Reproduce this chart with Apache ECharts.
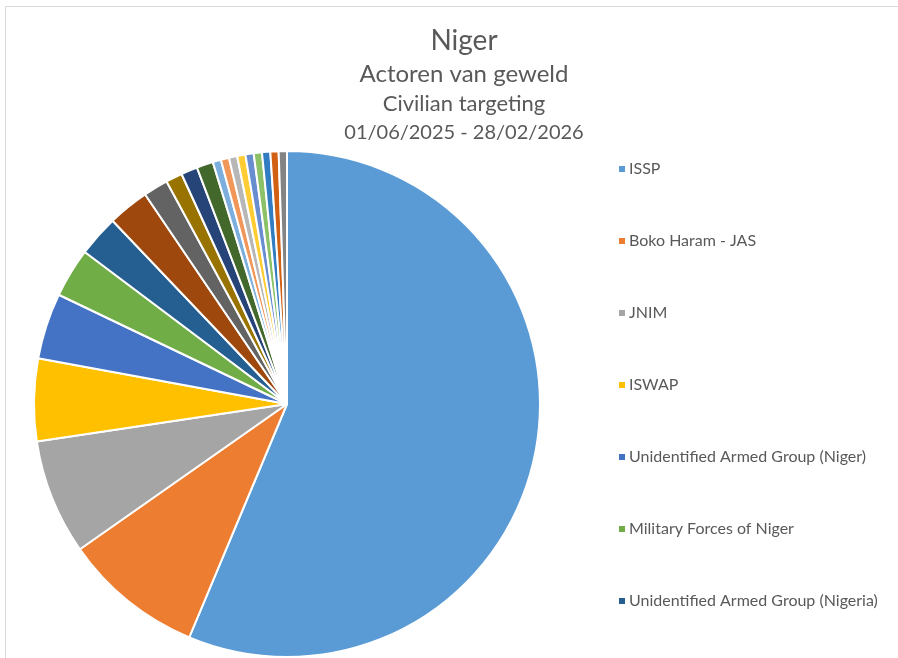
<!DOCTYPE html>
<html>
<head>
<meta charset="utf-8">
<script src="https://cdn.jsdelivr.net/npm/echarts@6/dist/echarts.min.js"></script>
<style>
  html, body { margin: 0; padding: 0; background: #fff; }
  #chart { width: 898px; height: 658px; }
</style>
</head>
<body>
<div id="chart"></div>
<script>
// actors (only the first 7 are shown in the legend, the rest are unnamed small slices)
let actors = ['ISSP', 'Boko Haram - JAS', 'JNIM', 'ISWAP', 'Unidentified Armed Group (Niger)',
    'Military Forces of Niger', 'Unidentified Armed Group (Nigeria)',
    'Actor 8', 'Actor 9', 'Actor 10', 'Actor 11', 'Actor 12', 'Actor 13', 'Actor 14',
    'Actor 15', 'Actor 16', 'Actor 17', 'Actor 18', 'Actor 19', 'Actor 20', 'Actor 21'];
let events = [107, 17, 14, 10, 8, 6, 5, 5, 3, 2, 2, 2, 1, 1, 1, 1, 1, 1, 1, 1, 1];
let colors = ['#5B9BD5', '#ED7D31', '#A5A5A5', '#FFC000', '#4472C4', '#70AD47',
    '#255E91', '#9E480E', '#636363', '#997300', '#264478', '#43682B',
    '#7CAFDD', '#F1975A', '#B7B7B7', '#FFCD33', '#698ED0', '#8CC168',
    '#327DC2', '#D26012', '#848484'];
let titleLines = ['Niger', 'Actoren van geweld', 'Civilian targeting', '01/06/2025 - 28/02/2026'];

let chart = echarts.init(document.getElementById('chart'));
let titleSizes = [28, 24, 22, 20];
let titleTops = [22, 57, 88, 118];
let titles = titleLines.map(function (t, i) {
    return {
        text: t,
        left: 459,
        top: titleTops[i],
        textAlign: 'center',
        textStyle: {
            fontFamily: 'Lato',
            fontWeight: 'normal',
            fontSize: titleSizes[i],
            color: '#595959'
        }
    };
});

let pieData = [];
for (let i = 0; i < actors.length; i++) {
    pieData.push({ name: actors[i], value: events[i], itemStyle: { color: colors[i] } });
}

chart.setOption({
    animation: false,
    title: titles,
    graphic: [{
        type: 'rect',
        shape: { x: 5.5, y: 6.5, width: 920, height: 700 },
        style: { fill: 'none', stroke: '#d9d9d9', lineWidth: 1 },
        silent: true
    }],
    legend: {
        orient: 'vertical',
        left: 612,
        top: 155,
        data: actors.slice(0, 7),
        icon: 'rect',
        itemWidth: 8,
        itemHeight: 8,
        itemGap: 54,
        textStyle: {
            fontFamily: 'Lato',
            fontSize: 16,
            lineHeight: 18,
            color: '#595959',
            padding: [0, 0, 0, -2]
        },
        selectedMode: false
    },
    series: [{
        type: 'pie',
        center: [287, 404],
        radius: 253,
        startAngle: 90,
        clockwise: true,
        label: { show: false },
        labelLine: { show: false },
        emphasis: { disabled: true },
        itemStyle: { borderColor: '#ffffff', borderWidth: 2 },
        data: pieData
    }]
});
</script>
</body>
</html>
